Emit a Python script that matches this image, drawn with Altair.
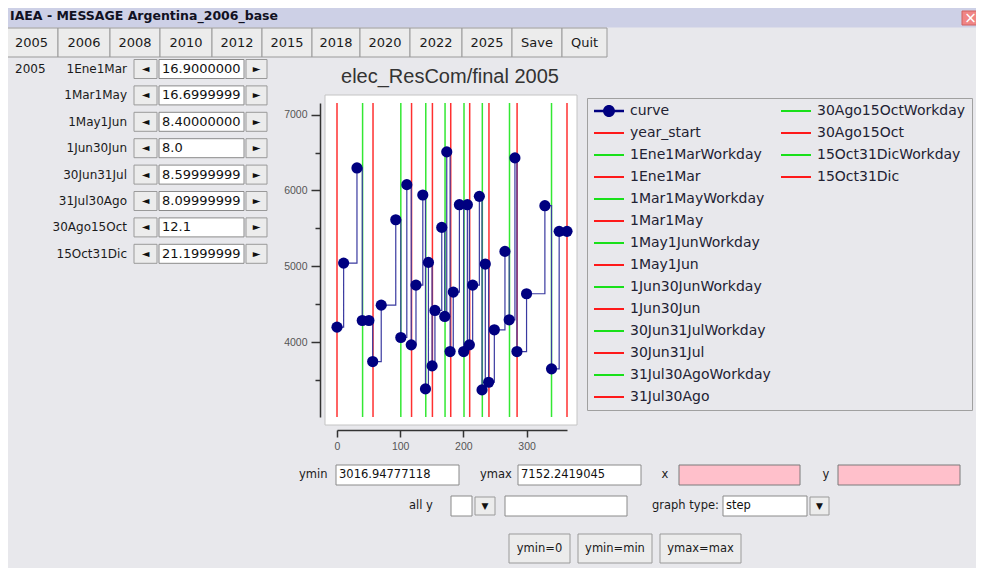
import altair as alt
import pandas as pd

# ---------------- chart data ----------------
curve_x = [0, 10.5, 31.6, 40, 50.5, 56.5, 70, 93, 101, 110.5, 117.5, 125, 135.8, 140,
           144.7, 150.5, 155, 165.8, 170.5, 173.7, 179, 184, 193.7, 200.5, 206.3, 209.5,
           214.7, 225.3, 229.5, 234.7, 240, 249, 265.8, 272.5, 281.6, 284.8, 300, 329,
           339.5, 351.6, 364]
curve_y = [4200, 5044, 6297, 4288, 4288, 3747, 4490, 5615, 4064, 6077, 3967, 4754, 5941, 3387,
           5053, 3690, 4420, 5514, 4341, 6508, 3879, 4662, 5813, 3879, 5813, 3967,
           4754, 5923, 3374, 5031, 3475, 4165, 5198, 4297, 6429, 3879, 4640, 5800,
           3651, 5462, 5462]
boundary_names = ["year_start", "1Ene1MarWorkday", "1Ene1Mar", "1Mar1MayWorkday", "1Mar1May",
                  "1May1JunWorkday", "1May1Jun", "1Jun30JunWorkday", "1Jun30Jun",
                  "30Jun31JulWorkday", "30Jun31Jul", "31Jul30AgoWorkday", "31Jul30Ago",
                  "30Ago15OctWorkday", "30Ago15Oct", "15Oct31DicWorkday", "15Oct31Dic"]
boundary_x = [0, 40.5, 57, 101, 118, 140.5, 151, 171, 180, 201, 210, 230, 240.5, 273, 285,
              339.5, 364]
y_min = 3016.94777118
y_max = 7152.2419045
x_ticks = [0, 50, 100, 150, 200, 250, 300, 350]
y_ticks = [3500, 4000, 4500, 5000, 5500, 6000, 6500, 7000]
chart_title = "elec_ResCom/final 2005"

# ---------------- surrounding window texts ----------------
window_title = "IAEA - MESSAGE Argentina_2006_base"
year_buttons = ["2005", "2006", "2008", "2010", "2012", "2015", "2018", "2020", "2022",
                "2025", "Save", "Quit"]
panel_year = "2005"
period_labels = ["1Ene1Mar", "1Mar1May", "1May1Jun", "1Jun30Jun", "30Jun31Jul",
                 "31Jul30Ago", "30Ago15Oct", "15Oct31Dic"]
period_values = ["16.9000000000", "16.6999999999", "8.40000000000", "8.0",
                 "8.59999999999", "8.09999999999", "12.1", "21.1999999999"]
ymin_text = "3016.94777118"
ymax_text = "7152.2419045"
graph_type = "step"
bottom_buttons = ["ymin=0", "ymin=min", "ymax=max"]

# ---------------- layout constants (screen pixels) ----------------
OX, OY = 337, 103          # plot origin on screen
PW, PH = 230, 314          # plot area size
BG = "#e8e8ec"
BTN = "#ececec"
BTN_STROKE = "#9a9a9a"
BTN_EDGES = [5, 58, 110, 160, 212, 262, 312, 360, 410, 462, 512, 562, 607]
GUI_FONT = "DejaVu Sans"


def gx(v):
    return v - OX


def gy(v):
    return v - OY


rects = []   # x1, y1, x2, y2, fill, stroke
texts_l, texts_c, texts_r, texts_entry = [], [], [], []   # x, y, text, size, color

# title bar
rects.append((0, 5, 984, 27, "#cdd0e6", "#cdd0e6"))
rects.append((962, 11, 979, 25, "#f08585", "#d06060"))
texts_c.append((970.5, 18, "\u00d7", 15, "#ffffff"))

# year buttons
for i, lab in enumerate(year_buttons):
    x1, x2 = BTN_EDGES[i], BTN_EDGES[i + 1]
    rects.append((x1, 28, x2, 57, BTN, BTN_STROKE))
    texts_c.append(((x1 + x2) / 2, 43, lab, 13, "#1a1a1a"))

# left panel
texts_l.append((15, 69, panel_year, 12, "#1a1a1a"))
for i, (lab, val) in enumerate(zip(period_labels, period_values)):
    yc = 69 + 26.4 * i
    texts_r.append((127, yc, lab, 12, "#1a1a1a"))
    rects.append((134, yc - 9.5, 157, yc + 9.5, BTN, BTN_STROKE))
    rects.append((159, yc - 9.5, 244, yc + 9.5, "#ffffff", "#8a8a8a"))
    rects.append((246, yc - 9.5, 267, yc + 9.5, BTN, BTN_STROKE))
    texts_c.append((145.5, yc, "\u25c4", 10, "#111111"))
    texts_c.append((256.5, yc, "\u25ba", 10, "#111111"))
    texts_entry.append((162, yc, val, 13, "#111111"))

# plot frame
rects.append((325, 95, 577, 425, "#ffffff", "#c4c4c4"))

# bottom controls, row 1
rects.append((336, 465, 459, 485, "#ffffff", "#8a8a8a"))
rects.append((518, 465, 641, 485, "#ffffff", "#8a8a8a"))
rects.append((679, 465, 800, 485, "#ffc0cb", "#7a7a7a"))
rects.append((838, 465, 960, 485, "#ffc0cb", "#7a7a7a"))
texts_l.append((299, 475, "ymin", 11.5, "#1a1a1a"))
texts_l.append((339, 475, ymin_text, 11.5, "#111111"))
texts_l.append((480, 475, "ymax", 11.5, "#1a1a1a"))
texts_l.append((521, 475, ymax_text, 11.5, "#111111"))
texts_c.append((665, 475, "x", 11.5, "#1a1a1a"))
texts_c.append((826, 475, "y", 11.5, "#1a1a1a"))
# row 2
rects.append((451, 496, 472, 516, "#ffffff", "#8a8a8a"))
rects.append((475, 497, 495, 515, BTN, BTN_STROKE))
rects.append((505, 496, 627, 516, "#ffffff", "#8a8a8a"))
rects.append((723, 496, 807, 516, "#ffffff", "#8a8a8a"))
rects.append((810, 497, 829, 515, BTN, BTN_STROKE))
texts_l.append((409, 506, "all y", 11.5, "#1a1a1a"))
texts_c.append((485, 506, "\u25bc", 9, "#111111"))
texts_l.append((652, 506, "graph type:", 11.5, "#1a1a1a"))
texts_l.append((726, 506, graph_type, 11.5, "#111111"))
texts_c.append((819.5, 506, "\u25bc", 9, "#111111"))
# row 3
for lab, (x1, x2) in zip(bottom_buttons, [(509, 570), (578, 652), (660, 741)]):
    rects.append((x1, 534, x2, 563, BTN, BTN_STROKE))
    texts_c.append(((x1 + x2) / 2, 549, lab, 11.5, "#1a1a1a"))


def rect_layer(rows):
    df = pd.DataFrame(rows, columns=["x1", "y1", "x2", "y2", "fill", "stroke"])
    df["x1"] = df["x1"].map(gx)
    df["x2"] = df["x2"].map(gx)
    df["y1"] = df["y1"].map(gy)
    df["y2"] = df["y2"].map(gy)
    return alt.Chart(df).mark_rect(strokeWidth=1).encode(
        x=alt.X("x1:Q", scale=None, axis=None), x2="x2:Q",
        y=alt.Y("y1:Q", scale=None, axis=None), y2="y2:Q",
        fill=alt.Fill("fill:N", scale=None, legend=None),
        stroke=alt.Stroke("stroke:N", scale=None, legend=None))


def text_layer(rows, align, font=GUI_FONT, weight="normal", limit=None):
    df = pd.DataFrame(rows, columns=["x", "y", "text", "size", "color"])
    df["x"] = df["x"].map(gx)
    df["y"] = df["y"].map(gy)
    mk = dict(align=align, baseline="middle", font=font, fontWeight=weight)
    if limit:
        mk.update(limit=limit, ellipsis="\u200b")
    return alt.Chart(df).mark_text(**mk).encode(
        x=alt.X("x:Q", scale=None, axis=None),
        y=alt.Y("y:Q", scale=None, axis=None),
        text=alt.Text("text:N"),
        size=alt.Size("size:Q", scale=None, legend=None),
        fill=alt.Fill("color:N", scale=None, legend=None))


# ---------------- plot layers ----------------
xscale = alt.Scale(domain=[0, 364], nice=False, zero=False)
yscale = alt.Scale(domain=[y_min, y_max], nice=False, zero=False)

xaxis = alt.Axis(values=x_ticks, title=None, grid=False, offset=13,
                 labelExpr="datum.value % 100 === 0 ? datum.label : ''",
                 tickSize={"condition": {"test": "datum.value % 100 === 0", "value": 7}, "value": 4},
                 domainColor="#333333", domainWidth=1.5, tickColor="#333333", tickWidth=1.5,
                 labelColor="#555555", labelFont="Liberation Sans", labelFontSize=10.5,
                 labelPadding=4, labelFlush=False)
yaxis = alt.Axis(values=y_ticks, title=None, grid=False, offset=17, format="d",
                 labelExpr="datum.value % 1000 === 0 ? datum.label : ''",
                 tickSize={"condition": {"test": "datum.value % 1000 === 0", "value": 9}, "value": 5},
                 domainColor="#333333", domainWidth=1.5, tickColor="#333333", tickWidth=1.5,
                 labelColor="#555555", labelFont="Liberation Sans", labelFontSize=10.5,
                 labelPadding=4, labelFlush=False)

rule_df = pd.DataFrame({
    "x": boundary_x,
    "name": boundary_names,
    "col": ["#33e833" if n.endswith("Workday") else "#ff3030" for n in boundary_names],
    "lo": [y_min] * len(boundary_x),
    "hi": [y_max] * len(boundary_x),
})
rules = alt.Chart(rule_df).mark_rule(strokeWidth=1.5).encode(
    x=alt.X("x:Q", scale=xscale, axis=xaxis),
    y=alt.Y("lo:Q", scale=yscale, axis=yaxis), y2="hi:Q",
    stroke=alt.Stroke("col:N", scale=None, legend=None))

curve_df = pd.DataFrame({"x": curve_x, "y": curve_y})
line = alt.Chart(curve_df).mark_line(interpolate="step-after", color="#3a3aa0",
                                     strokeWidth=1.2).encode(
    x=alt.X("x:Q", scale=xscale), y=alt.Y("y:Q", scale=yscale))
points = alt.Chart(curve_df).mark_circle(size=125, color="#000080", opacity=1).encode(
    x=alt.X("x:Q", scale=xscale), y=alt.Y("y:Q", scale=yscale))

# ---------------- legend (two columns, filled column by column) ----------------
legend_names = ["curve"] + boundary_names
n_rows = 14
pads = ["_pad%d" % i for i in range(2 * n_rows - len(legend_names))]
domain = legend_names + pads
line_path = "M-1,-0.16H4V0.16H-1Z"
curve_path = "M-1,-0.22H4V0.22H-1Z M0.5,0A1,1 0 1,1 2.5,0A1,1 0 1,1 0.5,0Z"
colors, shapes = [], []
for n in domain:
    if n == "curve":
        colors.append("#000080")
        shapes.append(curve_path)
    elif n.startswith("_pad"):
        colors.append("transparent")
        shapes.append(line_path)
    elif n.endswith("Workday"):
        colors.append("#10e010")
        shapes.append(line_path)
    else:
        colors.append("#ff1010")
        shapes.append(line_path)

leg = alt.Legend(title=None, orient="none", legendX=250, legendY=-5, columns=2,
                 columnPadding=9, rowPadding=8, padding=6, symbolSize=144,
                 symbolStrokeWidth=0, labelOffset=23, labelFont=GUI_FONT,
                 labelFontSize=14, labelColor="#222233", labelLimit=300,
                 fillColor=BG, strokeColor="#a0a0a0",
                 labelExpr="indexof(datum.label, '_pad') === 0 ? '' : datum.label")
legend_layer = alt.Chart(pd.DataFrame({"name": domain})).transform_filter("false").mark_point(
    filled=True, opacity=1, size=144).encode(
    color=alt.Color("name:N", scale=alt.Scale(domain=domain, range=colors), legend=leg),
    shape=alt.Shape("name:N", scale=alt.Scale(domain=domain, range=shapes), legend=leg))

title_layer = text_layer([(450, 77, chart_title, 20, "#333333")], "center",
                         font="Liberation Sans")
wtitle_layer = text_layer([(10, 16, window_title, 12.5, "#111122")], "left", weight="bold")

chart = alt.layer(
    rect_layer(rects),
    rules, line, points, legend_layer,
    text_layer(texts_l, "left"),
    text_layer(texts_c, "center"),
    text_layer(texts_r, "right"),
    text_layer(texts_entry, "left", limit=82),
    title_layer, wtitle_layer,
).properties(
    width=PW, height=PH,
    padding={"left": 329, "top": 95, "right": 409, "bottom": 151},
    autosize=alt.AutoSizeParams(type="none"),
    background=BG,
).configure_view(stroke=None)

chart.save("out.html", embed_options={"renderer": "svg", "actions": False})
